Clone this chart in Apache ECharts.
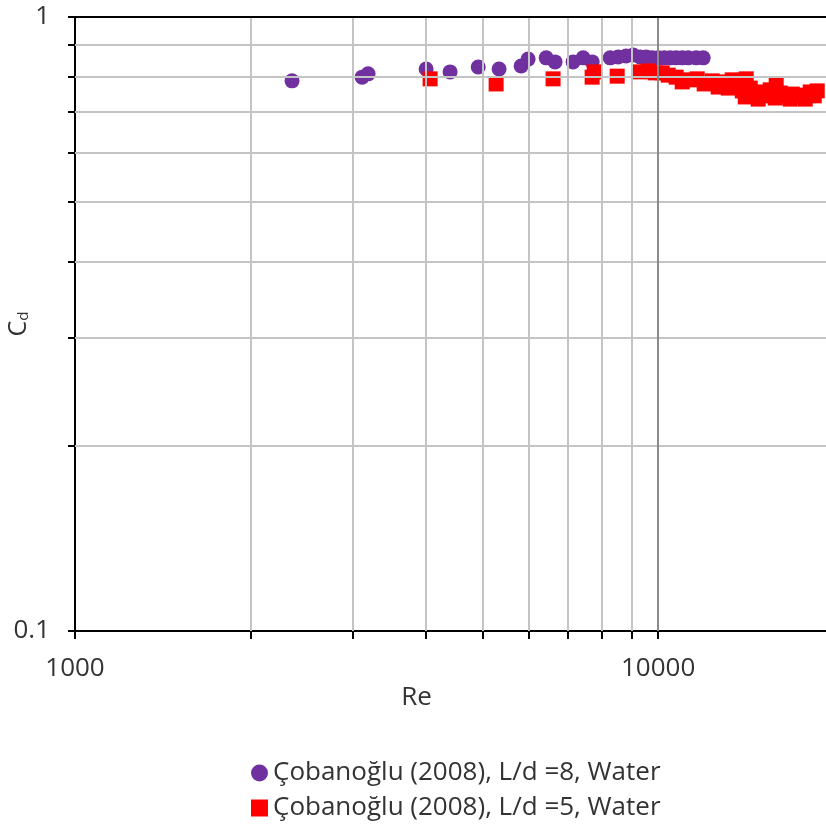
<!DOCTYPE html>
<html lang="en">
<head>
    <meta charset="UTF-8">
    <title>Cd - Re</title>
    <script src="https://cdn.jsdelivr.net/npm/echarts@6/dist/echarts.min.js"></script>
</head>
<body style="margin:0">
<div id="main" style="width: 826px;height: 827px;"></div>
<script type="text/javascript">
    // L/d = 8 (purple circles)
    var reL8 = [2356, 3107, 3181, 4000, 4397, 4914, 5336, 5821, 5984, 6427, 6656, 7147, 7436, 7706,
        8275, 8539, 8812, 9061, 9314, 9536, 9765, 10000, 10240, 10486, 10738, 10996, 11260, 11620, 11946];
    var cdL8 = [0.787, 0.798, 0.808, 0.823, 0.814, 0.829, 0.823, 0.832, 0.854, 0.858, 0.845, 0.845, 0.858, 0.845,
        0.858, 0.861, 0.864, 0.867, 0.861, 0.861, 0.858, 0.858, 0.858, 0.858, 0.858, 0.858, 0.858, 0.858, 0.858];
    // L/d = 5 (red squares)
    var reL5 = [4064, 5274, 6604, 7705, 7770, 8506,
        9314, 9613, 9883, 10160, 10404, 10738, 10996, 11347, 11667, 11993, 12378, 12675, 12979, 13188, 13395,
        13717, 13938, 14104, 14158, 14384, 14672, 14845, 14962, 15258, 15564, 15875, 15937, 16193, 16581,
        16847, 16981, 17384, 17802, 17872, 18230, 18520, 18740];
    var cdL5 = [0.793, 0.778, 0.793, 0.798, 0.814, 0.801,
        0.814, 0.817, 0.811, 0.811, 0.804, 0.798, 0.784, 0.790, 0.793, 0.778, 0.787, 0.769, 0.784, 0.766, 0.790,
        0.772, 0.758, 0.741, 0.793, 0.766, 0.746, 0.735, 0.755, 0.744, 0.761, 0.738, 0.775, 0.752, 0.744,
        0.735, 0.749, 0.744, 0.746, 0.735, 0.755, 0.744, 0.758];

    var xMinor = [2000, 3000, 4000, 5000, 6000, 7000, 8000, 9000];
    var yMinor = [0.2, 0.3, 0.4, 0.5, 0.6, 0.7, 0.8, 0.9];
    var xTicks = [1000, 2000, 3000, 4000, 5000, 6000, 7000, 8000, 9000, 10000];
    var yTicks = [0.1, 0.2, 0.3, 0.4, 0.5, 0.6, 0.7, 0.8, 0.9, 1];
    var xLabels = [1000, 10000];
    var yLabels = [0.1, 1];

    var FONT = 'Open Sans';
    var TXT = '#333333';

    function pairs(xs, ys) {
        let out = [];
        for (let i = 0; i < xs.length; i++) out.push([xs[i], ys[i]]);
        return out;
    }

    let gridLines = [];
    for (let v of xMinor) gridLines.push({xAxis: v});
    for (let v of yMinor) gridLines.push({yAxis: v});

    let myChart = echarts.init(document.getElementById('main'));
    const option = {
        animation: false,
        grid: {left: 75, top: 17, right: 0, bottom: 196, outerBoundsMode: 'none', containLabel: false},
        legend: {
            orient: 'vertical',
            left: 246,
            top: 755,
            itemGap: 9,
            itemWidth: 17,
            itemHeight: 17,
            textStyle: {fontFamily: FONT, fontSize: 26, color: TXT},
            data: [
                {name: 'Çobanoğlu (2008), L/d =8, Water', icon: 'circle'},
                {name: 'Çobanoğlu (2008), L/d =5, Water', icon: 'rect'}
            ]
        },
        xAxis: {
            type: 'log',
            logBase: 10,
            min: 1000,
            max: 19400,
            name: 'Re',
            nameLocation: 'middle',
            nameGap: 54,
            nameMoveOverlap: false,
            nameTextStyle: {fontFamily: FONT, fontSize: 26, color: TXT, padding: [0, 68, 0, 0]},
            axisLine: {lineStyle: {color: '#000', width: 2}},
            axisTick: {show: true, length: 8, lineStyle: {color: '#000', width: 2}, customValues: xTicks},
            axisLabel: {
                fontFamily: FONT, fontSize: 26, color: TXT, margin: 25, customValues: xLabels,
                formatter: function (v) { return String(Math.round(v)); }
            },
            splitLine: {show: false},
            minorSplitLine: {show: false}
        },
        yAxis: {
            type: 'log',
            logBase: 10,
            min: 0.1,
            max: 1,
            name: '{c|C}{d|d}',
            nameLocation: 'middle',
            nameRotate: 90,
            nameGap: 44,
            nameMoveOverlap: false,
            nameTextStyle: {
                rich: {
                    c: {fontFamily: FONT, fontSize: 25, color: TXT},
                    d: {fontFamily: FONT, fontSize: 15, color: TXT, verticalAlign: 'bottom', padding: [10, 0, 0, 0]}
                }
            },
            axisLine: {lineStyle: {color: '#000', width: 2}},
            axisTick: {show: true, length: 7, lineStyle: {color: '#000', width: 2}, customValues: yTicks},
            axisLabel: {
                fontFamily: FONT, fontSize: 26, color: TXT, margin: 25, customValues: yLabels,
                formatter: function (v) { return String(Math.round(v * 10) / 10); }
            },
            splitLine: {show: false}
        },
        series: [
            {
                name: 'grid',
                type: 'line',
                data: [],
                z: 1,
                silent: true,
                markLine: {
                    silent: true,
                    symbol: 'none',
                    animation: false,
                    label: {show: false},
                    lineStyle: {color: '#c4c4c4', width: 2, type: 'solid'},
                    emphasis: {disabled: true},
                    data: gridLines.concat([
                        {xAxis: 10000, lineStyle: {color: '#8a8a8a', width: 2}},
                        {yAxis: 1, lineStyle: {color: '#000', width: 2}}
                    ])
                }
            },
            {
                name: 'Çobanoğlu (2008), L/d =8, Water',
                type: 'scatter',
                z: 3,
                symbol: 'circle',
                symbolSize: 15,
                itemStyle: {color: '#7030A0', opacity: 1},
                data: pairs(reL8, cdL8)
            },
            {
                name: 'Çobanoğlu (2008), L/d =5, Water',
                type: 'scatter',
                z: 4,
                symbol: 'rect',
                symbolSize: 15,
                itemStyle: {color: '#FF0000', opacity: 1},
                data: pairs(reL5, cdL5)
            }
        ]
    };
    myChart.setOption(option);
</script>
</body>
</html>
